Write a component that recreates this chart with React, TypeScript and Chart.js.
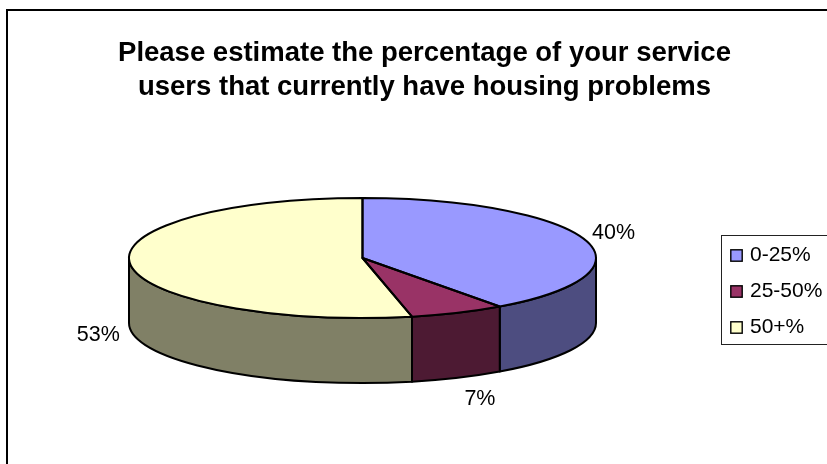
import React, { useEffect, useRef } from "react";
import { Chart, registerables } from "chart.js";

Chart.register(...registerables);

const categories = ["0-25%", "25-50%", "50+%"];
const shares = [40, 6.6, 53.4];
const topColors = ["#9999FF", "#993366", "#FFFFCC"];
const sideColors = ["#4D4D80", "#4D1A33", "#808066"];
const titleLines = [
  "Please estimate the percentage of your service",
  "users that currently have housing problems",
];

const FONT = "'Liberation Sans', Arial, sans-serif";
const CENTER = { x: 362.5, y: 258 };
const RADIUS = 233.5;
const SQUASH = 60 / 233.5;
const DEPTH = 65;
const LABEL_SHIFT = [
  [29, -6.5],
  [22, 86],
  [-32, 70.5],
];

function swatch(fill: string) {
  const c = document.createElement("canvas");
  c.width = 13;
  c.height = 13;
  const g = c.getContext("2d")!;
  g.fillStyle = fill;
  g.fillRect(1, 1, 11, 11);
  g.strokeStyle = "#000";
  g.lineWidth = 1.4;
  g.strokeRect(0.8, 0.8, 11.4, 11.4);
  return c;
}

const pie3d = {
  id: "pie3d",
  beforeDraw(chart: any) {
    const { ctx, width, height } = chart;
    ctx.save();
    ctx.strokeStyle = "#000";
    ctx.lineWidth = 2;
    ctx.strokeRect(7, 10, width + 20, height + 20);
    ctx.lineWidth = 1;
    ctx.strokeStyle = "#222";
    ctx.strokeRect(721.5, 235.5, 140, 109);
    ctx.restore();
  },
  afterLayout(chart: any) {
    const lg = chart.legend;
    const h = lg.height;
    lg.left = 733.5 - 15;
    lg.right = lg.left + lg.width;
    lg.top = 230;
    lg.bottom = lg.top + h;
    lg.adjustHitBoxes();
  },
  beforeDatasetDraw(chart: any, args: any) {
    const { ctx } = chart;
    const arcs = chart.getDatasetMeta(args.index).data;
    const ry = RADIUS * SQUASH;
    ctx.save();
    ctx.lineWidth = 2;
    ctx.strokeStyle = "#000";
    ctx.lineJoin = "round";
    arcs.forEach((arc: any, i: number) => {
      const a0 = Math.max(arc.startAngle, 0);
      const a1 = Math.min(arc.endAngle, Math.PI);
      if (a1 <= a0) return;
      ctx.beginPath();
      ctx.ellipse(CENTER.x, CENTER.y, RADIUS, ry, 0, a0, a1);
      ctx.ellipse(CENTER.x, CENTER.y + DEPTH, RADIUS, ry, 0, a1, a0, true);
      ctx.closePath();
      ctx.fillStyle = sideColors[i];
      ctx.fill();
      ctx.stroke();
    });
    ctx.restore();
    const first = arcs[0];
    ctx.save();
    ctx.translate(CENTER.x, CENTER.y);
    ctx.scale(1, SQUASH);
    ctx.translate(-first.x, -first.y);
  },
  afterDatasetDraw(chart: any, args: any) {
    const { ctx } = chart;
    ctx.restore();
    const arcs = chart.getDatasetMeta(args.index).data;
    const ry = RADIUS * SQUASH;
    ctx.save();
    ctx.lineWidth = 2;
    ctx.strokeStyle = "#000";
    ctx.lineJoin = "round";
    arcs.forEach((arc: any) => {
      ctx.beginPath();
      ctx.moveTo(CENTER.x, CENTER.y);
      ctx.ellipse(CENTER.x, CENTER.y, RADIUS, ry, 0, arc.startAngle, arc.endAngle);
      ctx.closePath();
      ctx.stroke();
    });
    ctx.fillStyle = "#000";
    ctx.font = `21.5px ${FONT}`;
    ctx.textAlign = "center";
    ctx.textBaseline = "middle";
    arcs.forEach((arc: any, i: number) => {
      const mid = (arc.startAngle + arc.endAngle) / 2;
      const x = CENTER.x + Math.cos(mid) * RADIUS + LABEL_SHIFT[i][0];
      const y = CENTER.y + Math.sin(mid) * ry + LABEL_SHIFT[i][1];
      ctx.fillText(`${Math.round(shares[i])}%`, x, y);
    });
    ctx.restore();
  },
};

export default function App() {
  const ref = useRef<HTMLCanvasElement>(null);
  useEffect(() => {
    const chart = new Chart(ref.current!, {
      type: "pie",
      data: {
        labels: categories,
        datasets: [
          {
            data: shares,
            backgroundColor: topColors,
            borderWidth: 0,
            radius: RADIUS,
            clip: false,
          } as any,
        ],
      },
      options: {
        responsive: false,
        animation: false,
        events: [],
        layout: { padding: { left: 22 } },
        plugins: {
          title: {
            display: true,
            text: titleLines,
            color: "#000",
            font: { family: FONT, size: 27.5, weight: "bold", lineHeight: 1.24 },
            padding: { top: 36, bottom: 10 },
          },
          legend: {
            position: "right",
            align: "start",
            labels: {
              color: "#000",
              font: { family: FONT, size: 21 },
              padding: 15,
              usePointStyle: true,
              pointStyleWidth: 6,
              generateLabels: () =>
                categories.map((text, i) => ({
                  text,
                  index: i,
                  datasetIndex: 0,
                  pointStyle: swatch(topColors[i]),
                  fillStyle: topColors[i],
                  strokeStyle: "#000",
                  lineWidth: 1,
                })),
            },
          },
          tooltip: { enabled: false },
        },
      },
      plugins: [pie3d],
    } as any);
    return () => chart.destroy();
  }, []);
  return (
    <div style={{ position: "fixed", left: 0, top: 0, width: 827, height: 464, background: "#fff" }}>
      <canvas ref={ref} width={827} height={464} style={{ display: "block" }} />
    </div>
  );
}
